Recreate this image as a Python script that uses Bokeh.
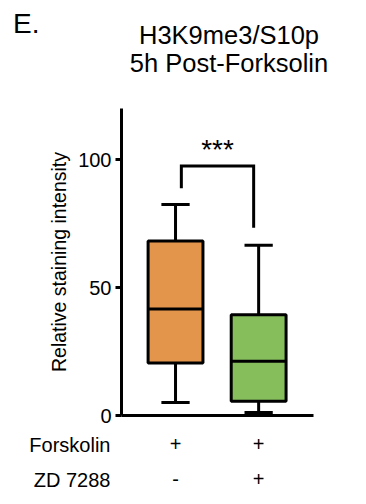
from bokeh.plotting import figure
from bokeh.models import ColumnDataSource, FixedTicker, Range1d
from bokeh.layouts import column
from bokeh.core.properties import value
from bokeh.embed import file_html
from bokeh.resources import INLINE

# ---- data ----
groups = [1, 2]
box_colors = ["#E4954C", "#86BE5C"]
q1 = [20.5, 5.6]
median = [41.6, 21.2]
q3 = [68.2, 39.4]
lower = [5.1, 1.2]
upper = [82.5, 66.5]
forskolin = ["+", "+"]
zd7288 = ["-", "+"]
row_names = ["Forskolin", "ZD 7288"]
y_ticks = [0, 50, 100]
sig_text = "***"
bracket_x = [1.07, 1.94]
bracket_top = 97.5
bracket_ends = [88.8, 73.4]
title_lines = ["H3K9me3/S10p", "5h Post-Forksolin"]
panel_letter = "E."

FONT = "Liberation Sans"
W = 358
LEFT, TOP, FH = 121, 108, 307
FW = W - LEFT
AXIS_PX = 192               # length of the drawn x axis
BB = 15                     # bottom border of main plot
FOOT_H = 70
X0, XA = 0.35, 2.66         # x axis bounds
scale = AXIS_PX / (XA - X0)
X1 = X0 + FW / scale


def hide_axis(ax):
    ax.axis_line_color = None
    ax.major_tick_line_color = None
    ax.minor_tick_line_color = None
    ax.major_tick_out = 0
    ax.major_tick_in = 0


# ---------- header ----------
head = figure(width=W, height=TOP, output_backend="svg", toolbar_location=None,
              x_range=Range1d(LEFT, W), y_range=Range1d(TOP, 0),
              x_axis_type=None, min_border_left=LEFT, min_border_right=0,
              min_border_top=0, min_border_bottom=0)
head.outline_line_color = None
head.grid.visible = False
hide_axis(head.yaxis[0])
head.yaxis.ticker = FixedTicker(ticks=[23])
head.yaxis.major_label_overrides = {23: panel_letter}
head.yaxis.major_label_text_font = FONT
head.yaxis.major_label_text_font_size = "28px"
head.yaxis.major_label_text_color = "black"
head.yaxis.major_label_standoff = LEFT - 39
head.text(x=[228.5, 228.5], y=[34.5, 62.8], text=title_lines, text_font=value(FONT),
          text_font_size="25.5px", text_align="center", text_baseline="alphabetic",
          text_color="black")

# ---------- main plot ----------
p = figure(width=W, height=FH + BB, output_backend="svg", toolbar_location=None,
           x_range=Range1d(X0, X1), y_range=Range1d(0, 120),
           frame_width=FW, frame_height=FH,
           min_border_left=LEFT, min_border_right=0,
           min_border_top=0, min_border_bottom=BB)
p.outline_line_color = None
p.grid.visible = False

p.xaxis.ticker = FixedTicker(ticks=[])
p.xaxis.bounds = (X0, XA)
p.xaxis.axis_line_width = 3
p.xaxis.axis_line_color = "black"
p.xaxis.major_tick_line_color = None
p.xaxis.minor_tick_line_color = None
p.xaxis.major_tick_out = 0
p.xaxis.major_label_standoff = 0

p.yaxis.ticker = FixedTicker(ticks=y_ticks)
p.yaxis.axis_line_width = 3
p.yaxis.axis_line_color = "black"
p.yaxis.major_tick_line_width = 3
p.yaxis.major_tick_line_color = "black"
p.yaxis.major_tick_out = 6
p.yaxis.major_tick_in = 0
p.yaxis.minor_tick_line_color = None
p.yaxis.major_label_text_font = FONT
p.yaxis.major_label_text_font_size = "20px"
p.yaxis.major_label_text_color = "black"
p.yaxis.major_label_standoff = 4
p.yaxis.axis_label = "Relative staining intensity"
p.yaxis.axis_label_text_font = FONT
p.yaxis.axis_label_text_font_size = "19.5px"
p.yaxis.axis_label_text_font_style = "normal"
p.yaxis.axis_label_text_color = "black"
p.yaxis.axis_label_standoff = 5

src = ColumnDataSource(dict(x=groups, q1=q1, med=median, q3=q3, lo=lower, hi=upper,
                            color=box_colors))
cap_w = 0.17
box_w = 0.66
src.data["cl"] = [g - cap_w for g in groups]
src.data["cr"] = [g + cap_w for g in groups]
src.data["bl"] = [g - box_w / 2 for g in groups]
src.data["br"] = [g + box_w / 2 for g in groups]

p.segment(x0="x", y0="q3", x1="x", y1="hi", source=src, line_color="black", line_width=3)
p.segment(x0="x", y0="q1", x1="x", y1="lo", source=src, line_color="black", line_width=3)
p.segment(x0="cl", y0="hi", x1="cr", y1="hi", source=src, line_color="black", line_width=3)
p.segment(x0="cl", y0="lo", x1="cr", y1="lo", source=src, line_color="black", line_width=3)
p.vbar(x="x", width=box_w, bottom="q1", top="q3", source=src, fill_color="color",
       line_color="black", line_width=3)
p.segment(x0="bl", y0="med", x1="br", y1="med", source=src, line_color="black", line_width=3)

p.line(x=[bracket_x[0], bracket_x[0], bracket_x[1], bracket_x[1]],
       y=[bracket_ends[0], bracket_top, bracket_top, bracket_ends[1]],
       line_color="black", line_width=3, line_join="miter")
p.text(x=[sum(bracket_x) / 2], y=[bracket_top + 6.6], text=[sig_text],
       text_font=value(FONT), text_font_size="28px", text_align="center",
       text_baseline="alphabetic", text_color="black")

# ---------- footer (treatment rows) ----------
foot_top = TOP + FH + BB
foot = figure(width=W, height=FOOT_H, output_backend="svg", toolbar_location=None,
              x_range=p.x_range, y_range=Range1d(foot_top + FOOT_H, foot_top),
              x_axis_type=None, min_border_left=LEFT, min_border_right=0,
              min_border_top=0, min_border_bottom=0)
foot.outline_line_color = None
foot.grid.visible = False
row_mid = [444.8, 479.8]
row_base = [443.0, 478.0]
hide_axis(foot.yaxis[0])
foot.yaxis.ticker = FixedTicker(ticks=row_mid)
foot.yaxis.major_label_overrides = dict(zip(row_mid, row_names))
foot.yaxis.major_label_text_font = FONT
foot.yaxis.major_label_text_font_size = "20px"
foot.yaxis.major_label_text_color = "black"
foot.yaxis.major_label_standoff = LEFT - 110
foot.text(x=groups, y=[row_base[0]] * len(groups), text=forskolin, text_font=value(FONT),
          text_font_size="20px", text_align="center", text_baseline="alphabetic",
          text_color="black")
foot.text(x=groups, y=[row_base[1]] * len(groups), text=zd7288, text_font=value(FONT),
          text_font_size="20px", text_align="center", text_baseline="alphabetic",
          text_color="black")

layout = column(head, p, foot, spacing=0)
open("out.html", "w").write(file_html(layout, INLINE))
